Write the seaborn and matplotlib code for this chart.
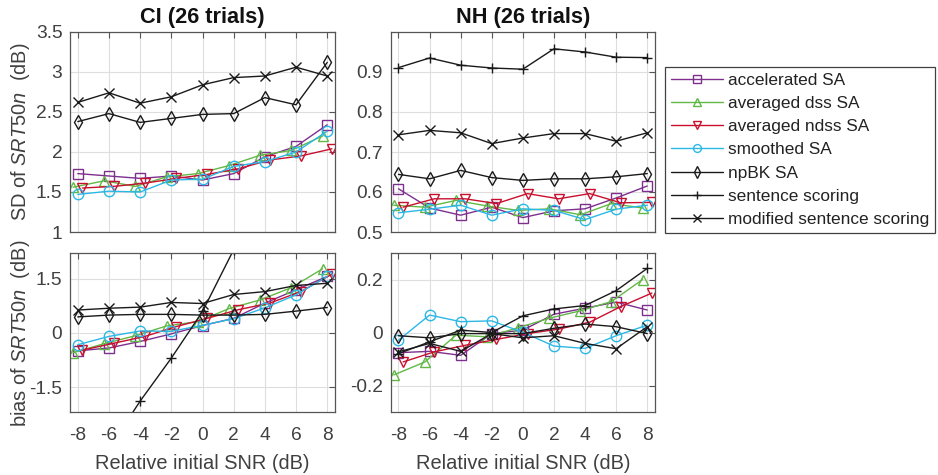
import numpy as np
import pandas as pd
import matplotlib
matplotlib.use("Agg")
import matplotlib.pyplot as plt
import seaborn as sns

# ---------------- data ----------------
snr = [-8, -6, -4, -2, 0, 2, 4, 6, 8]
methods = ["accelerated SA", "averaged dss SA", "averaged ndss SA", "smoothed SA",
           "npBK SA", "sentence scoring", "modified sentence scoring"]

# CI: SD of SRT50n (dB)
acc_ci_sd = [1.73, 1.70, 1.67, 1.70, 1.65, 1.73, 1.94, 2.07, 2.34]
dss_ci_sd = [1.56, 1.64, 1.57, 1.69, 1.73, 1.83, 1.96, 2.02, 2.20]
ndss_ci_sd = [1.55, 1.57, 1.61, 1.67, 1.72, 1.79, 1.90, 1.95, 2.04]
smo_ci_sd = [1.47, 1.51, 1.50, 1.65, 1.66, 1.82, 1.88, 2.00, 2.26]
npbk_ci_sd = [2.38, 2.48, 2.37, 2.42, 2.47, 2.48, 2.68, 2.59, 3.12]
sent_ci_sd = None  # above the visible range
mod_ci_sd = [2.62, 2.74, 2.61, 2.69, 2.84, 2.93, 2.95, 3.06, 2.95]

# NH: SD of SRT50n (dB)
acc_nh_sd = [0.608, 0.560, 0.542, 0.562, 0.536, 0.553, 0.558, 0.585, 0.615]
dss_nh_sd = [0.567, 0.562, 0.579, 0.565, 0.554, 0.558, 0.543, 0.571, 0.560]
ndss_nh_sd = [0.562, 0.583, 0.583, 0.571, 0.596, 0.583, 0.596, 0.573, 0.574]
smo_nh_sd = [0.548, 0.557, 0.567, 0.542, 0.558, 0.554, 0.531, 0.557, 0.567]
npbk_nh_sd = [0.644, 0.633, 0.654, 0.636, 0.629, 0.633, 0.633, 0.638, 0.646]
sent_nh_sd = [0.911, 0.935, 0.917, 0.910, 0.907, 0.958, 0.950, 0.937, 0.936]
mod_nh_sd = [0.743, 0.754, 0.748, 0.721, 0.735, 0.746, 0.746, 0.727, 0.748]

# CI: bias of SRT50n (dB)
acc_ci_b = [-0.50, -0.42, -0.24, -0.03, 0.20, 0.40, 0.82, 1.19, 1.56]
dss_ci_b = [-0.55, -0.30, -0.08, 0.19, 0.31, 0.67, 0.91, 1.25, 1.77]
ndss_ci_b = [-0.48, -0.29, -0.10, 0.17, 0.40, 0.64, 0.82, 1.14, 1.62]
smo_ci_b = [-0.33, -0.10, 0.05, 0.04, 0.21, 0.39, 0.69, 1.05, 1.56]
npbk_ci_b = [0.44, 0.49, 0.51, 0.51, 0.49, 0.49, 0.51, 0.60, 0.70]
sent_ci_b = [-4.4, -3.2, -1.89, -0.70, 0.59, 2.3, 3.6, 4.8, 6.0]
mod_ci_b = [0.63, 0.68, 0.71, 0.84, 0.81, 1.06, 1.14, 1.31, 1.37]

# NH: bias of SRT50n (dB)
acc_nh_b = [-0.075, -0.070, -0.085, -0.003, 0.010, 0.070, 0.093, 0.116, 0.086]
dss_nh_b = [-0.159, -0.110, -0.009, -0.015, 0.019, 0.055, 0.083, 0.118, 0.201]
ndss_nh_b = [-0.110, -0.072, -0.047, -0.025, -0.003, 0.014, 0.040, 0.099, 0.150]
smo_nh_b = [-0.028, 0.067, 0.042, 0.045, 0.002, -0.050, -0.059, -0.011, 0.029]
npbk_nh_b = [-0.011, -0.019, -0.003, -0.003, -0.003, 0.017, 0.033, 0.023, -0.003]
sent_nh_b = [-0.079, -0.034, 0.010, 0.001, 0.064, 0.090, 0.103, 0.159, 0.243]
mod_nh_b = [-0.072, -0.040, -0.070, -0.003, -0.019, -0.011, -0.040, -0.060, 0.023]

x_ticks = [-8, -6, -4, -2, 0, 2, 4, 6, 8]
x_tick_labels = ["-8", "-6", "-4", "-2", "0", "2", "4", "6", "8"]
ci_sd_ticks = [1, 1.5, 2, 2.5, 3, 3.5]
ci_sd_labels = ["1", "1.5", "2", "2.5", "3", "3.5"]
nh_sd_ticks = [0.5, 0.6, 0.7, 0.8, 0.9]
nh_sd_labels = ["0.5", "0.6", "0.7", "0.8", "0.9"]
ci_b_ticks = [-1.5, 0, 1.5]
ci_b_labels = ["-1.5", "0", "1.5"]
nh_b_ticks = [-0.2, 0, 0.2]
nh_b_labels = ["-0.2", "0", "0.2"]

titles = ["CI (26 trials)", "NH (26 trials)"]
xlabel = "Relative initial SNR (dB)"
ylabel_sd = r"SD of $\mathit{SRT50n}$  (dB)"
ylabel_b = r"bias of $\mathit{SRT50n}$  (dB)"

# ---------------- style ----------------
colors = {"accelerated SA": "#7E2F8E", "averaged dss SA": "#62B846",
          "averaged ndss SA": "#C8102E", "smoothed SA": "#2CB8E6",
          "npBK SA": "#1a1a1a", "sentence scoring": "#1a1a1a",
          "modified sentence scoring": "#1a1a1a"}
markers = {"accelerated SA": "s", "averaged dss SA": "^", "averaged ndss SA": "v",
           "smoothed SA": "o", "npBK SA": "d", "sentence scoring": "+",
           "modified sentence scoring": "x"}
dodge = {"averaged dss SA": -0.3, "averaged ndss SA": 0.3}

sns.set_style("white")
plt.rcParams["font.family"] = ["Liberation Sans", "DejaVu Sans"]
plt.rcParams["mathtext.fontset"] = "custom"
plt.rcParams["mathtext.rm"] = "Liberation Sans"
plt.rcParams["mathtext.it"] = "Liberation Sans:italic"

TXT = "#404040"
SPINE = "#555555"

fig = plt.figure(figsize=(9.38, 4.75), dpi=100)
W, H = 938, 475
def box(x0, y0, x1, y1):
    return [x0 / W, (H - y1) / H, (x1 - x0) / W, (y1 - y0) / H]

ax_tl = fig.add_axes(box(70, 32, 335, 232))
ax_tr = fig.add_axes(box(390.7, 32, 655, 232))
ax_bl = fig.add_axes(box(70, 253.3, 335, 412.3))
ax_br = fig.add_axes(box(390.7, 253.3, 655, 412.3))

panels = [
    (ax_tl, [acc_ci_sd, dss_ci_sd, ndss_ci_sd, smo_ci_sd, npbk_ci_sd, sent_ci_sd, mod_ci_sd],
     (1, 3.5), ci_sd_ticks, ci_sd_labels),
    (ax_tr, [acc_nh_sd, dss_nh_sd, ndss_nh_sd, smo_nh_sd, npbk_nh_sd, sent_nh_sd, mod_nh_sd],
     (0.5, 1.0), nh_sd_ticks, nh_sd_labels),
    (ax_bl, [acc_ci_b, dss_ci_b, ndss_ci_b, smo_ci_b, npbk_ci_b, sent_ci_b, mod_ci_b],
     (-2.2, 2.2), ci_b_ticks, ci_b_labels),
    (ax_br, [acc_nh_b, dss_nh_b, ndss_nh_b, smo_nh_b, npbk_nh_b, sent_nh_b, mod_nh_b],
     (-0.3, 0.3), nh_b_ticks, nh_b_labels),
]

for ax, series, ylim, yt, ytl in panels:
    for name, vals in zip(methods, series):
        if vals is None:
            continue
        xs = np.array(snr, dtype=float) + dodge.get(name, 0.0)
        df = pd.DataFrame({"x": xs, "y": vals})
        c = colors[name]
        sns.lineplot(data=df, x="x", y="y", ax=ax, color=c, marker=markers[name],
                     markersize=7.5, markerfacecolor="none", markeredgecolor=c,
                     markeredgewidth=1.0, linewidth=1.0, label=name, legend=False,
                     sort=False)
    ax.set_xlim(-8.5, 8.5)
    ax.set_ylim(*ylim)
    ax.set_xticks(x_ticks)
    ax.set_yticks(yt)
    ax.set_yticklabels(ytl)
    ax.grid(True, color="#dedede", linewidth=0.8)
    ax.set_axisbelow(True)
    for s in ax.spines.values():
        s.set_color(SPINE)
        s.set_linewidth(0.9)
    ax.tick_params(axis="both", direction="in", length=4, width=0.8, color=SPINE,
                   labelsize=13.8, labelcolor=TXT, top=True, right=True)
    ax.tick_params(axis="y", pad=5.5)
    ax.tick_params(axis="x", pad=10.5)
    ax.set_xlabel("")
    ax.set_ylabel("")

for ax in (ax_tl, ax_tr):
    ax.set_xticklabels([])
for ax in (ax_bl, ax_br):
    ax.set_xticklabels(x_tick_labels)
    ax.set_xlabel(xlabel, fontsize=14.4, color=TXT, labelpad=7)

ax_tl.set_title(titles[0], fontsize=15.7, fontweight="bold", color="#111111", pad=6.3)
ax_tr.set_title(titles[1], fontsize=15.7, fontweight="bold", color="#111111", pad=6.3)

ax_tl.set_ylabel(ylabel_sd, fontsize=14.4, color=TXT)
ax_bl.set_ylabel(ylabel_b, fontsize=14.4, color=TXT)
ax_tl.yaxis.set_label_coords(-0.145, 0.5)
ax_bl.yaxis.set_label_coords(-0.145, 0.5)

handles, labels = ax_tr.get_legend_handles_labels()
leg = fig.legend(handles, labels, loc="upper left",
                 bbox_to_anchor=(665 / W, 1 - 66.7 / H), bbox_transform=fig.transFigure,
                 borderaxespad=0, frameon=True, fancybox=False, framealpha=1,
                 edgecolor="#404040", fontsize=12.4, handlelength=3.0,
                 handletextpad=0.27, labelspacing=0.47, borderpad=0.36,
                 markerscale=0.75)
leg.get_frame().set_linewidth(0.9)
for t in leg.get_texts():
    t.set_color("#222222")

fig.savefig("out.png", dpi=100)
